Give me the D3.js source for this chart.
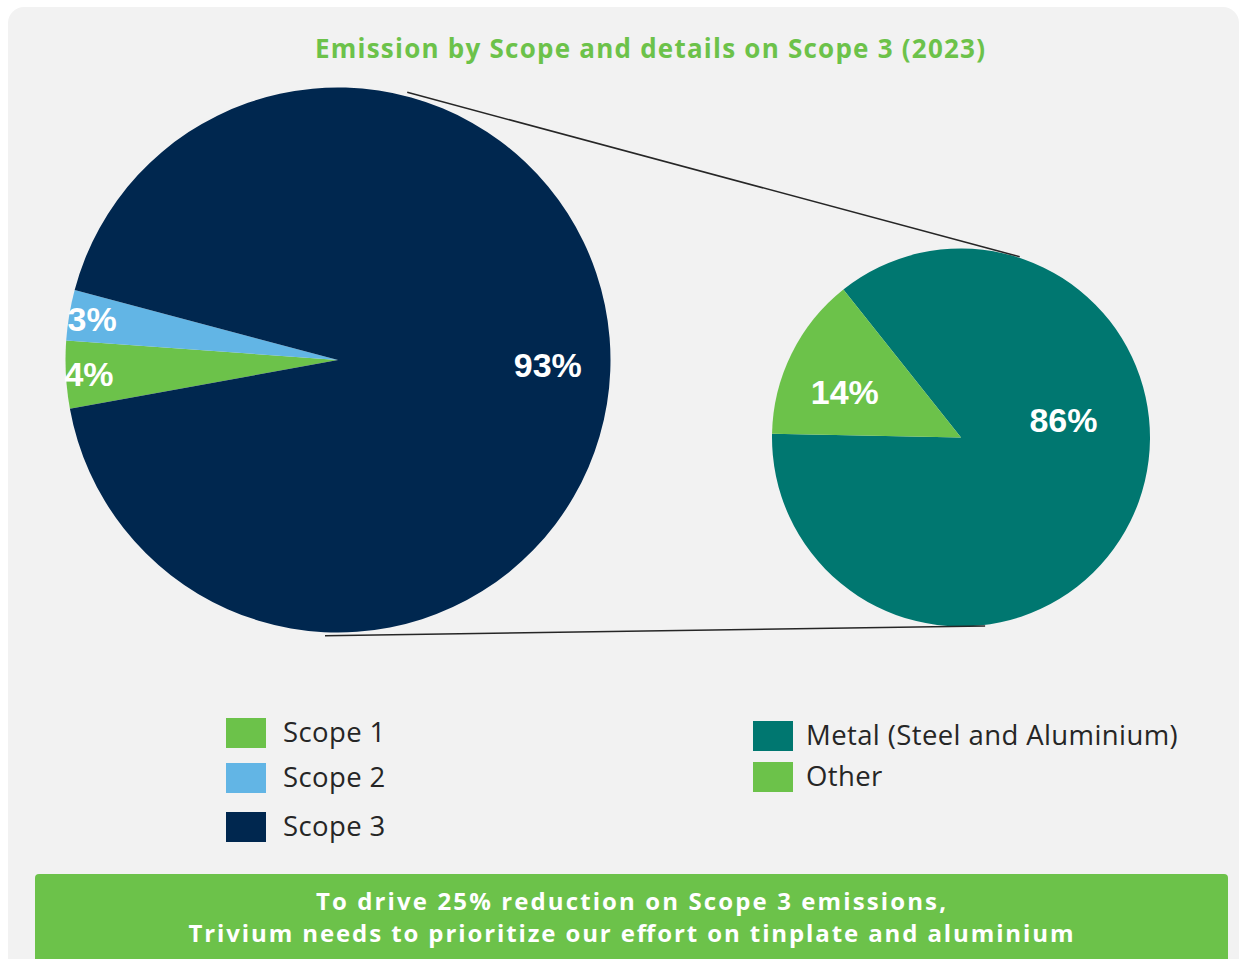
<!DOCTYPE html>
<html>
<head>
<meta charset="utf-8">
<script src="https://cdn.jsdelivr.net/npm/d3@7"></script>
<style>
  body { margin: 0; background: #fff; }
  svg { display: block; }
</style>
</head>
<body>
<script>
// data
const scopeNames = ["Scope 1", "Scope 2", "Scope 3"];
const scopeShares = [4, 3, 93];
const detailNames = ["Metal (Steel and Aluminium)", "Other"];
const detailShares = [86, 14];
const titleText = "Emission by Scope and details on Scope 3 (2023)";
const bannerLines = ["To drive 25% reduction on Scope 3 emissions,",
                     "Trivium needs to prioritize our effort on tinplate and aluminium"];

const scopeColors = ["#6cc24a", "#62b5e5", "#00274f"];
const detailColors = ["#007770", "#6cc24a"];

const W = 1244, H = 959;
const rad = deg => deg * Math.PI / 180;

const svg = d3.select("body").append("svg")
  .attr("width", W)
  .attr("height", H);

// card background
svg.append("rect")
  .attr("x", 8).attr("y", 7)
  .attr("width", W - 13).attr("height", H + 20)
  .attr("rx", 16)
  .attr("fill", "#f2f2f2");

svg.append("text")
  .attr("x", 650).attr("y", 58)
  .attr("text-anchor", "middle")
  .attr("textLength", 670)
  .attr("lengthAdjust", "spacing")
  .style("font-family", "'Open Sans', sans-serif")
  .style("font-weight", 700)
  .style("font-size", "26px")
  .attr("fill", "#6cc24a")
  .text(titleText);

// draw one pie; labelNudge shifts label angle (deg) so it sits like the original
function drawPie(names, values, colors, cx, cy, r, startDeg, labelR, labelNudge) {
  const pie = d3.pie().sort(null)
    .value(d => d.value)
    .startAngle(rad(startDeg))
    .endAngle(rad(startDeg) + 2 * Math.PI);
  const arcs = pie(values.map((v, i) => ({name: names[i], value: v, color: colors[i]})));
  const arc = d3.arc().innerRadius(0).outerRadius(r);

  const g = svg.append("g").attr("transform", `translate(${cx},${cy})`);
  g.selectAll("path")
    .data(arcs)
    .join("path")
    .attr("d", arc)
    .attr("fill", d => d.data.color);

  g.selectAll("text")
    .data(arcs)
    .join("text")
    .attr("transform", (d, i) => {
      const a = (d.startAngle + d.endAngle) / 2 + rad(labelNudge[i] || 0);
      const lr = r * labelR(d);
      return `translate(${lr * Math.sin(a)},${-lr * Math.cos(a)})`;
    })
    .attr("text-anchor", "middle")
    .attr("dy", "0.36em")
    .style("font-family", "'Liberation Sans', Arial, sans-serif")
    .style("font-weight", 700)
    .style("font-size", "34px")
    .attr("fill", "#fff")
    .text(d => d.data.value + "%");
  return {cx, cy, r};
}

const big = drawPie(scopeNames, scopeShares, scopeColors, 338, 360, 272.5, 259.7,
  d => d.data.value < 10 ? 0.915 : 0.77, [0, 0, -1]);
const small = drawPie(detailNames, detailShares, detailColors, 961, 437.5, 189, 321.5,
  d => d.data.value < 50 ? 0.66 : 0.55, [-36, -5]);

// connector lines between the two pies
function onCircle(c, deg, extra) {
  const rr = c.r + extra;
  return [c.cx + rr * Math.sin(rad(deg)), c.cy - rr * Math.cos(rad(deg))];
}
const connectors = [
  [onCircle(big, 14.5, 4), onCircle(small, 18, 1)],
  [onCircle(big, 182.7, 3.5), onCircle(small, 172.7, 1)]
];
svg.selectAll("line.conn")
  .data(connectors)
  .join("line")
  .attr("class", "conn")
  .attr("x1", d => d[0][0]).attr("y1", d => d[0][1])
  .attr("x2", d => d[1][0]).attr("y2", d => d[1][1])
  .attr("stroke", "#262626")
  .attr("stroke-width", 1.5);

// legends
function legend(names, colors, x, y0, step, textX) {
  const g = svg.append("g");
  const item = g.selectAll("g")
    .data(names)
    .join("g")
    .attr("transform", (d, i) => `translate(${x},${y0 + i * step[i]})`);
  item.append("rect")
    .attr("width", 40).attr("height", 30)
    .attr("fill", (d, i) => colors[i]);
  item.append("text")
    .attr("x", textX).attr("y", 24)
    .style("font-family", "'Open Sans', sans-serif")
    .style("font-size", "27.5px")
    .style("letter-spacing", "0.4px")
    .attr("fill", "#262626")
    .text(d => d);
}
legend(scopeNames, scopeColors, 226, 718, [0, 45, 47], 57);
legend(detailNames, detailColors, 753, 721, [0, 41], 53);

// bottom banner
svg.append("rect")
  .attr("x", 35).attr("y", 874)
  .attr("width", 1193).attr("height", 90)
  .attr("rx", 4)
  .attr("fill", "#6cc24a");
svg.selectAll("text.banner")
  .data(bannerLines)
  .join("text")
  .attr("class", "banner")
  .attr("x", 631)
  .attr("y", (d, i) => 910 + i * 32)
  .attr("text-anchor", "middle")
  .attr("textLength", (d, i) => [630, 885][i])
  .attr("lengthAdjust", "spacing")
  .style("font-family", "'Open Sans', sans-serif")
  .style("font-weight", 700)
  .style("font-size", "24px")
  .attr("fill", "#fff")
  .text(d => d);
</script>
</body>
</html>
